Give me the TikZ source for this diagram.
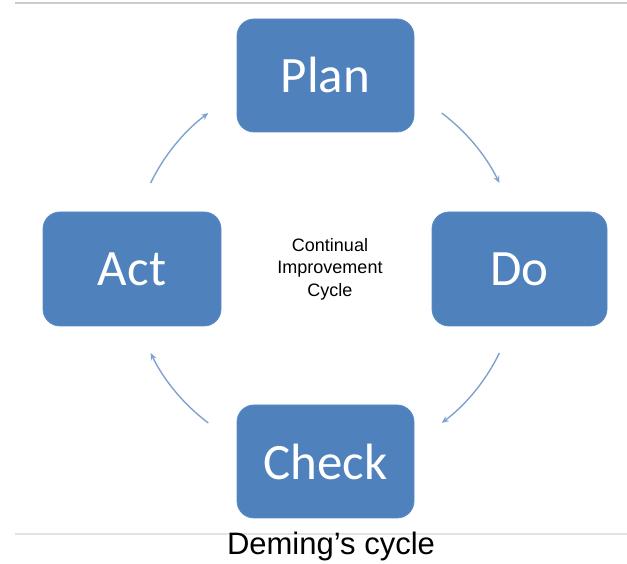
\documentclass[tikz,border=0pt]{standalone}
\usepackage{fontspec}
\setmainfont{Liberation Sans}
\newfontfamily\boxfont{Carlito}
\usetikzlibrary{arrows.meta,calc}
\definecolor{boxblue}{HTML}{4F81BD}
\definecolor{boxedge}{HTML}{5A8AC6}
\definecolor{arcblue}{HTML}{7EA3CF}
\definecolor{topline}{HTML}{CCCCCC}
\definecolor{botline}{HTML}{E3E3E3}
\tikzset{
  stagebox/.style={rectangle, rounded corners=17pt, fill=boxblue, draw=boxedge, line width=0.8pt,
    minimum width=177pt, minimum height=113pt, inner sep=0pt,
    text=white, font=\boxfont\fontsize{51}{53}\selectfont},
  cyclearc/.style={draw=arcblue, line width=1.4pt, -{Stealth[length=7pt,width=6pt]}},
}
\begin{document}
\begin{tikzpicture}[x=1pt,y=1pt]
\useasboundingbox (0,0) rectangle (627,564);
% rules
\coordinate (tl) at (15,561);
\coordinate (tr) at (627,561);
\coordinate (bl) at (15,30);
\coordinate (br) at (627,30);
\draw[topline, line width=2.2pt] (tl) -- (tr);
\draw[botline, line width=1.6pt] (bl) -- (br);
% boxes
\node[stagebox] (plan) at (325.5,488.5) {\raisebox{1.5pt}{Plan}};
\node[stagebox, minimum width=175pt, minimum height=114pt] (do) at (519.5,295) {Do};
\node[stagebox, minimum width=178pt, minimum height=114pt] (act) at (132,295) {Act};
\node[stagebox] (check) at (325.5,102.5) {Check};
% centre text
\node[align=center, font=\fontsize{18}{22.5}\selectfont, inner sep=0pt] (centre) at (330,295)
  {Continual\\Improvement\\Cycle};
% arcs
\coordinate (c) at (325,296);
\coordinate (a1) at ($(c)+(154:194)$);
\coordinate (a2) at ($(c)+(53:194)$);
\coordinate (a3) at ($(c)+(-26:194)$);
\coordinate (a4) at ($(c)+(233:194)$);
\draw[cyclearc] (a1) arc[start angle=154, end angle=127, radius=194];
\draw[cyclearc] (a2) arc[start angle=53, end angle=26, radius=194];
\draw[cyclearc] (a3) arc[start angle=-26, end angle=-53, radius=194];
\draw[cyclearc] (a4) arc[start angle=233, end angle=206, radius=194];
% caption
\node[anchor=base, font=\fontsize{31}{34}\selectfont, inner sep=0pt] (caption) at (331,9) {Deming’s cycle};
\end{tikzpicture}
\end{document}
